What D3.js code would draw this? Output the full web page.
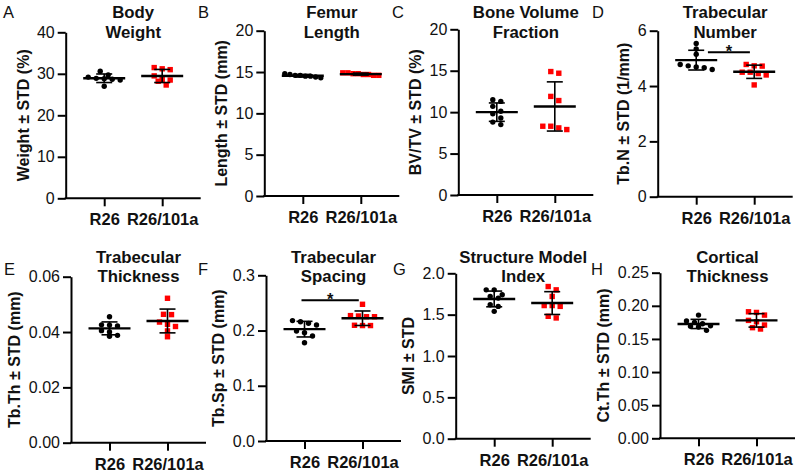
<!DOCTYPE html>
<html><head><meta charset="utf-8">
<script src="https://cdn.jsdelivr.net/npm/d3@7"></script>
<style>body{margin:0;background:#fff} svg{display:block}</style>
</head><body>
<svg id="chart" width="796" height="472"></svg>
<script>
const categories = ["R26", "R26/101a"];
const panelLetters = ["A","B","C","D","E","F","G","H"];
const panelTitles = [["Body","Weight"],["Femur","Length"],["Bone Volume","Fraction"],["Trabecular","Number"],
  ["Trabecular","Thickness"],["Trabecular","Spacing"],["Structure Model","Index"],["Cortical","Thickness"]];
const yAxisLabels = ["Weight ± STD (%)","Length ± STD (mm)","BV/TV ± STD (%)","Tb.N ± STD (1/mm)",
  "Tb.Th ± STD (mm)","Tb.Sp ± STD (mm)","SMI ± STD","Ct.Th ± STD (mm)"];
const yDomains = [[0,40],[0,20],[0,20],[0,6],[0,0.06],[0,0.3],[0,2],[0,0.25]];
const yTickValues = [[0,10,20,30,40],[0,5,10,15,20],[0,5,10,15,20],[0,2,4,6],
  [0,0.02,0.04,0.06],[0,0.1,0.2,0.3],[0,0.5,1,1.5,2],[0,0.05,0.1,0.15,0.2,0.25]];
const yTickFormats = ["d","d","d","d",".2f",".1f",".1f",".2f"];

// R26 (black circles) and R26/101a (red squares)
const weightR26 = [30.6, 29.7, 29.2, 28.9, 28.8, 28.7, 28.5, 27.0];
const weightMut = [31.2, 31.5, 31.0, 29.5, 28.6, 28.5, 27.3, 28.2];
const lengthR26 = [14.6, 14.7, 14.5, 14.8, 14.4, 14.6, 14.3, 14.5];
const lengthMut = [14.9, 14.8, 14.9, 14.7, 14.6, 14.8, 14.6, 14.7];
const bvtvR26 = [11.5, 11.3, 10.7, 10.1, 9.8, 9.3, 8.8, 8.5];
const bvtvMut = [14.7, 14.9, 11.9, 11.4, 8.3, 7.9, 8.3, 8.1];
const tbnR26 = [5.54, 5.34, 5.15, 4.78, 4.73, 4.66, 4.69, 4.60];
const tbnMut = [4.78, 4.73, 4.72, 4.50, 4.50, 4.45, 4.40, 4.04];
const tbthR26 = [0.0455, 0.0426, 0.0425, 0.0422, 0.0405, 0.0400, 0.0388, 0.0385];
const tbthMut = [0.0522, 0.0464, 0.0463, 0.0436, 0.0428, 0.0420, 0.0404, 0.0383];
const tbspR26 = [0.218, 0.216, 0.213, 0.210, 0.199, 0.196, 0.190, 0.178];
const tbspMut = [0.2475, 0.2263, 0.227, 0.225, 0.225, 0.2095, 0.209, 0.209];
const smiR26 = [1.80, 1.80, 1.74, 1.72, 1.70, 1.62, 1.60, 1.54];
const smiMut = [1.84, 1.80, 1.72, 1.61, 1.61, 1.60, 1.46, 1.48];
const ctthR26 = [0.186, 0.177, 0.175, 0.173, 0.170, 0.169, 0.168, 0.163];
const ctthMut = [0.191, 0.190, 0.186, 0.178, 0.176, 0.171, 0.167, 0.165];
const significanceValues = [null, null, null, 5.22, null, 0.255, null, null];
const significanceLabels = [null, null, null, "*", null, "*", null, null];

const seriesR26 = [weightR26, lengthR26, bvtvR26, tbnR26, tbthR26, tbspR26, smiR26, ctthR26];
const seriesMut = [weightMut, lengthMut, bvtvMut, tbnMut, tbthMut, tbspMut, smiMut, ctthMut];

// layout (positions only)
const layout = [
  {x:65.7, top:32.3, bottom:198.3, lx:3, row:0},
  {x:264.3, top:30.7, bottom:196, lx:198, row:0},
  {x:458.3, top:29.3, bottom:195, lx:392, row:0},
  {x:657.7, top:30.7, bottom:196.7, lx:592, row:0, sig:[11.7,-4.3]},
  {x:71, top:276.7, bottom:442.7, lx:4, row:1},
  {x:266, top:275.3, bottom:441, lx:198, row:1, sig:[-3,-3.7]},
  {x:455.7, top:273.3, bottom:438.7, lx:393, row:1},
  {x:660, top:272.7, bottom:438.3, lx:591, row:1}
];
const rowLetterY = [18, 275];
const rowTitleY = [[18, 38], [263, 282]];
const axisLen = 135;
const FONT = "'Liberation Sans', Arial, Helvetica, sans-serif";
const RED = "#f00";

const svg = d3.select("#chart").style("font-family", FONT);

function swarm(values, y, cx) {
  const pts = values.map(v => ({v, y: y(v)})).sort((a, b) => a.y - b.y);
  const rows = []; let cur = null;
  for (const p of pts) {
    if (cur && p.y - cur[0].y < 5) cur.push(p); else { cur = [p]; rows.push(cur); }
  }
  rows.forEach(r => {
    const n = r.length;
    const s = n > 1 ? Math.min(8, 36 / (n - 1)) : 0;
    r.forEach((p, i) => p.x = cx + (i - (n - 1) / 2) * s);
  });
  return pts;
}

layout.forEach((L, i) => {
  const g = svg.append("g");
  const y = d3.scaleLinear().domain(yDomains[i]).range([L.bottom, L.top]);
  const x = d3.scalePoint().domain(categories).range([L.x, L.x + axisLen]).padding(0.664);

  // letter
  g.append("text").attr("x", L.lx).attr("y", rowLetterY[L.row]).attr("font-size", 16.5)
    .attr("fill", "#111").text(panelLetters[i]);
  // title
  panelTitles[i].forEach((t, k) => {
    g.append("text").attr("x", L.x + axisLen / 2).attr("y", rowTitleY[L.row][k])
      .attr("text-anchor", "middle").attr("font-size", 16.8).attr("font-weight", "bold")
      .attr("fill", "#111").text(t);
  });

  // y axis
  const ya = g.append("g").attr("transform", `translate(${L.x},0)`)
    .call(d3.axisLeft(y).tickValues(yTickValues[i]).tickFormat(d3.format(yTickFormats[i]))
      .tickSize(8).tickPadding(3).tickSizeOuter(0));
  ya.selectAll("text").attr("font-size", 16).attr("font-family", FONT).attr("fill", "#111");
  ya.selectAll("line").attr("stroke-width", 2).attr("stroke", "#000");
  ya.select(".domain").attr("stroke-width", 2).attr("stroke", "#000");

  // x axis
  const xa = g.append("g").attr("transform", `translate(0,${L.bottom})`)
    .call(d3.axisBottom(x).tickSize(8).tickPadding(7.3).tickSizeOuter(0));
  xa.selectAll("text").attr("font-size", 16.5).attr("font-weight", "bold").attr("font-family", FONT).attr("fill", "#111");
  xa.selectAll("line").attr("stroke-width", 2).attr("stroke", "#000");
  xa.select(".domain").attr("stroke-width", 2).attr("stroke", "#000").attr("d", `M${L.x - 1},0H${L.x + axisLen}`);

  // y label
  let minX = Infinity;
  ya.selectAll("text").each(function() { const b = this.getBBox(); minX = Math.min(minX, L.x + b.x); });
  g.append("text")
    .attr("transform", `translate(${minX - 14},${(L.top + L.bottom) / 2}) rotate(-90)`)
    .attr("dy", "0.35em").attr("text-anchor", "middle").attr("font-size", 16)
    .attr("font-weight", "bold").attr("fill", "#111").text(yAxisLabels[i]);

  // points
  const groups = [{vals: seriesR26[i], color: "#000", shape: "circle"}, {vals: seriesMut[i], color: RED, shape: "square"}];
  groups.forEach((grp, gi) => {
    const cx = x(categories[gi]);
    const pts = swarm(grp.vals, y, cx);
    if (grp.shape === "circle") {
      g.selectAll(null).data(pts).enter().append("circle")
        .attr("cx", d => d.x).attr("cy", d => d.y).attr("r", 2.7).attr("fill", grp.color);
    } else {
      g.selectAll(null).data(pts).enter().append("rect")
        .attr("x", d => d.x - 2.7).attr("y", d => d.y - 2.7).attr("width", 5.4).attr("height", 5.4)
        .attr("fill", grp.color);
    }
  });
  // mean and SD
  groups.forEach((grp, gi) => {
    const cx = x(categories[gi]);
    const m = d3.mean(grp.vals), sd = d3.deviation(grp.vals);
    const ln = (x1, y1, x2, y2, w) => g.append("line").attr("x1", x1).attr("y1", y1).attr("x2", x2).attr("y2", y2)
      .attr("stroke", "#000").attr("stroke-width", w);
    ln(cx, y(m + sd), cx, y(m - sd), 1.6);
    ln(cx - 8, y(m + sd), cx + 8, y(m + sd), 1.6);
    ln(cx - 8, y(m - sd), cx + 8, y(m - sd), 1.6);
    ln(cx - 21, y(m), cx + 21, y(m), 2.4);
  });

  // significance
  if (significanceValues[i] != null) {
    const yy = y(significanceValues[i]);
    const x1 = x(categories[0]) + L.sig[0], x2 = x(categories[1]) + L.sig[1];
    g.append("line").attr("x1", x1).attr("x2", x2).attr("y1", yy).attr("y2", yy)
      .attr("stroke", "#000").attr("stroke-width", 2);
    g.append("text").attr("x", (x1 + x2) / 2).attr("y", yy + 4.6).attr("text-anchor", "middle")
      .attr("font-size", 16.5).attr("font-weight", "bold").attr("fill", "#111").text(significanceLabels[i]);
  }
});
</script>
</body></html>
